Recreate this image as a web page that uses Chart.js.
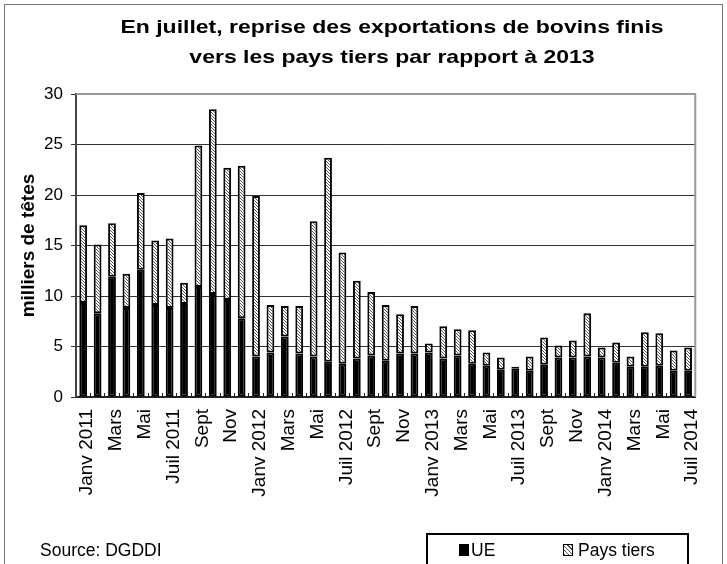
<!DOCTYPE html>
<html>
<head>
<meta charset="utf-8">
<script src="https://cdn.jsdelivr.net/npm/chart.js@4.4.1/dist/chart.umd.min.js"></script>
<style>
  body { margin: 0; width: 727px; height: 564px; overflow: hidden; background: #fff; font-family: "Liberation Sans", Arial, sans-serif; }
  #frame { position: absolute; left: 4px; top: 4px; width: 717px; height: 620px; border: 1px solid #777; }
  #chart { position: absolute; left: 0; top: 0; }
  #title { position: absolute; left: 0; top: 11px; width: 784px; text-align: center; font-weight: bold; font-size: 23px; line-height: 38px; transform: scaleY(0.8); transform-origin: 50% 0; color: #000; }
  #source { position: absolute; left: 40px; top: 540px; font-size: 17.5px; color: #000; }
  #legend { position: absolute; left: 426px; top: 533px; width: 259px; height: 60px; border: 2px solid #000; }
  .sw { position: absolute; top: 9px; width: 10px; height: 12px; box-sizing: border-box; }
  .lt { position: absolute; top: 5px; font-size: 17.5px; }
</style>
</head>
<body>
<div id="frame"></div>
<canvas id="chart" width="727" height="564"></canvas>
<div id="title">En juillet, reprise des exportations de bovins finis<br>vers les pays tiers par rapport à 2013</div>
<div id="source">Source: DGDDI</div>
<div id="legend">
  <div class="sw" style="left:31px;background:#000;"></div><div class="lt" style="left:43px;">UE</div>
  <div class="sw" style="left:135px;border:1px solid #000;background:repeating-linear-gradient(45deg,#555 0 1px,#fff 1px 3px);"></div><div class="lt" style="left:150px;">Pays tiers</div>
</div>
<script>
// mois de janvier 2011 à juillet 2014
const months = [
  "Janv 2011", "Févr", "Mars", "Avr", "Mai", "Juin", "Juil 2011", "Août", "Sept", "Oct", "Nov", "Déc",
  "Janv 2012", "Févr", "Mars", "Avr", "Mai", "Juin", "Juil 2012", "Août", "Sept", "Oct", "Nov", "Déc",
  "Janv 2013", "Févr", "Mars", "Avr", "Mai", "Juin", "Juil 2013", "Août", "Sept", "Oct", "Nov", "Déc",
  "Janv 2014", "Févr", "Mars", "Avr", "Mai", "Juin", "Juil 2014"
];

// milliers de têtes
const ue = [
  9.3, 8.3, 11.9, 8.8, 12.6, 9.1, 8.8, 9.2, 10.9, 10.2, 9.6, 7.8,
  4.0, 4.4, 6.0, 4.3, 4.0, 3.5, 3.3, 3.8, 4.1, 3.6, 4.3, 4.3,
  4.4, 3.8, 4.1, 3.3, 3.1, 2.7, 2.8, 2.6, 3.2, 3.9, 3.9, 4.0,
  3.9, 3.4, 3.0, 3.0, 3.1, 2.6, 2.6
];
const paysTiers = [
  7.7, 6.8, 5.3, 3.4, 7.6, 6.4, 6.9, 2.1, 14.0, 18.3, 13.1, 15.1,
  15.9, 4.7, 3.0, 4.7, 13.4, 20.2, 11.0, 7.7, 6.3, 5.5, 3.9, 4.7,
  0.9, 3.2, 2.6, 3.3, 1.3, 1.2, 0.2, 1.4, 2.7, 1.2, 1.7, 4.3,
  1.0, 2.0, 1.0, 3.4, 3.2, 2.0, 2.3
];

const yTicks = [0, 5, 10, 15, 20, 25, 30];

// hachures pour "Pays tiers"
const pc = document.createElement('canvas');
pc.width = 3; pc.height = 3;
const g = pc.getContext('2d');
g.fillStyle = '#fff';
g.fillRect(0, 0, 3, 3);
g.strokeStyle = '#555';
g.lineWidth = 1;
g.beginPath();
g.moveTo(0, 0); g.lineTo(3, 3);
g.moveTo(-1, 2); g.lineTo(1, 4);
g.moveTo(2, -1); g.lineTo(4, 1);
g.stroke();
const hatch = g.createPattern(pc, 'repeat');

const plotFrame = {
  id: 'plotFrame',
  beforeDatasetsDraw(chart) {
    const { ctx, chartArea: a } = chart;
    ctx.save();
    ctx.strokeStyle = '#999';
    ctx.lineWidth = 2;
    ctx.beginPath();
    ctx.moveTo(a.left, a.top);
    ctx.lineTo(a.right, a.top);
    ctx.lineTo(a.right, a.bottom);
    ctx.stroke();
    ctx.restore();
  }
};

new Chart(document.getElementById('chart'), {
  type: 'bar',
  data: {
    labels: months,
    datasets: [
      {
        label: 'UE',
        data: ue,
        backgroundColor: '#000',
        borderColor: '#000',
        borderWidth: 2,
        borderSkipped: false
      },
      {
        label: 'Pays tiers',
        data: paysTiers,
        backgroundColor: hatch,
        borderColor: '#000',
        borderWidth: 2,
        borderSkipped: false
      }
    ]
  },
  options: {
    responsive: false,
    animation: false,
    layout: { padding: { top: 94, right: 10, bottom: 47, left: 4 } },
    datasets: { bar: { barPercentage: 0.54, categoryPercentage: 1 } },
    plugins: {
      legend: { display: false },
      tooltip: { enabled: false },
      title: { display: false }
    },
    scales: {
      x: {
        stacked: true,
        afterFit(scale) { scale.height = 120; },
        border: { display: true, color: '#222', width: 2 },
        grid: { drawOnChartArea: false, color: '#222', tickLength: -4 },
        ticks: {
          autoSkip: false,
          maxRotation: 90,
          minRotation: 90,
          padding: 16,
          labelOffset: 4,
          color: '#000',
          font: { family: '"Liberation Sans", Arial, sans-serif', size: 19 },
          callback: (v, i) => (i % 2 === 0 ? months[i] : '')
        }
      },
      y: {
        stacked: true,
        min: 0,
        max: 30,
        afterFit(scale) { scale.width = 72; },
        afterBuildTicks(scale) { scale.ticks = yTicks.map(v => ({ value: v })); },
        border: { display: true, color: '#444', width: 2 },
        grid: { color: '#333', lineWidth: 1, tickLength: 5 },
        title: {
          display: true,
          text: 'milliers de têtes',
          color: '#000',
          padding: { top: 13, bottom: 0 },
          font: { family: '"Liberation Sans", Arial, sans-serif', size: 19, weight: 'bold' }
        },
        ticks: {
          padding: 8,
          color: '#000',
          font: { family: '"Liberation Sans", Arial, sans-serif', size: 17 }
        }
      }
    }
  },
  plugins: [plotFrame]
});
</script>
</body>
</html>
